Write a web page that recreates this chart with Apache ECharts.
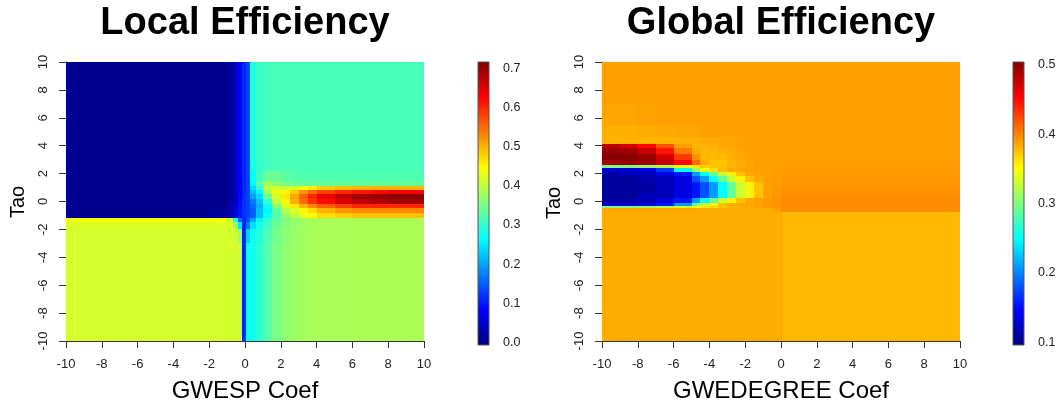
<!DOCTYPE html>
<html><head><meta charset="utf-8">
<script src="https://cdn.jsdelivr.net/npm/echarts@6/dist/echarts.min.js"></script>
<style>html,body{margin:0;padding:0;background:#fff}#c{width:1064px;height:405px}</style>
</head><body><div id="c"></div>
<script>
const titles = ['Local Efficiency', 'Global Efficiency'];
const xNames = ['GWESP Coef', 'GWEDEGREE Coef'];
const yName = 'Tao';
const localColorTicks = [0, 0.1, 0.2, 0.3, 0.4, 0.5, 0.6, 0.7];
const globalColorTicks = [0.1, 0.2, 0.3, 0.4, 0.5];
const localRange = [-0.007, 0.717];
const globalRange = [0.096, 0.504];
const jet = ['#00007F', '#0000FF', '#007FFF', '#00FFFF', '#7FFF7F', '#FFFF00', '#FF7F00', '#FF0000', '#7F0000'];

// Local efficiency: cell edges and values (rows bottom -> top)
const localXEdges = [-10, -2, -1, -0.65, -0.4, -0.15, 0.05, 0.3, 0.6, 1, 1.5, 2, 2.5, 3, 3.5, 4, 5, 6, 7, 8, 9, 10];
const localYEdges = [-10, -3, -2, -1.5, -1.15, -0.85, -0.5, -0.15, 0.2, 0.55, 0.85, 1.1, 1.5, 2.2, 3, 10];
const localEff = [
  [0.415, 0.415, 0.415, 0.414, 0.41, 0.11, 0.27, 0.275, 0.295, 0.325, 0.35, 0.365, 0.375, 0.38, 0.383, 0.385, 0.385, 0.386, 0.386, 0.386, 0.386],
  [0.415, 0.415, 0.415, 0.41, 0.38, 0.11, 0.23, 0.27, 0.29, 0.32, 0.345, 0.362, 0.373, 0.38, 0.383, 0.385, 0.385, 0.386, 0.386, 0.386, 0.386],
  [0.42, 0.42, 0.415, 0.38, 0.25, 0.11, 0.17, 0.24, 0.28, 0.31, 0.34, 0.36, 0.37, 0.378, 0.382, 0.385, 0.385, 0.386, 0.386, 0.386, 0.386],
  [0.44, 0.44, 0.4, 0.28, 0.16, 0.11, 0.14, 0.2, 0.26, 0.3, 0.335, 0.355, 0.368, 0.376, 0.38, 0.385, 0.386, 0.387, 0.387, 0.387, 0.387],
  [0.005, 0.015, 0.03, 0.06, 0.1, 0.12, 0.13, 0.15, 0.22, 0.27, 0.32, 0.37, 0.4, 0.43, 0.45, 0.47, 0.48, 0.49, 0.49, 0.49, 0.49],
  [0.005, 0.01, 0.025, 0.055, 0.1, 0.12, 0.13, 0.15, 0.22, 0.26, 0.33, 0.39, 0.42, 0.45, 0.47, 0.5, 0.52, 0.53, 0.53, 0.53, 0.53],
  [0.005, 0.008, 0.02, 0.05, 0.095, 0.12, 0.13, 0.16, 0.21, 0.27, 0.36, 0.42, 0.46, 0.5, 0.53, 0.56, 0.58, 0.6, 0.6, 0.6, 0.6],
  [0.005, 0.005, 0.015, 0.045, 0.09, 0.12, 0.13, 0.17, 0.22, 0.3, 0.4, 0.45, 0.5, 0.55, 0.59, 0.62, 0.65, 0.67, 0.68, 0.69, 0.69],
  [0.005, 0.005, 0.012, 0.04, 0.085, 0.11, 0.13, 0.2, 0.24, 0.34, 0.42, 0.46, 0.51, 0.56, 0.6, 0.64, 0.67, 0.69, 0.7, 0.71, 0.71],
  [0.005, 0.005, 0.01, 0.04, 0.08, 0.11, 0.13, 0.22, 0.26, 0.38, 0.43, 0.45, 0.48, 0.52, 0.55, 0.58, 0.6, 0.61, 0.62, 0.63, 0.63],
  [0.005, 0.005, 0.01, 0.04, 0.08, 0.11, 0.13, 0.24, 0.3, 0.4, 0.42, 0.41, 0.42, 0.44, 0.46, 0.48, 0.49, 0.5, 0.5, 0.5, 0.5],
  [0.005, 0.005, 0.01, 0.04, 0.08, 0.11, 0.13, 0.26, 0.33, 0.38, 0.36, 0.35, 0.34, 0.335, 0.335, 0.335, 0.335, 0.335, 0.335, 0.335, 0.335],
  [0.005, 0.005, 0.01, 0.04, 0.08, 0.11, 0.13, 0.27, 0.31, 0.34, 0.34, 0.33, 0.325, 0.32, 0.32, 0.32, 0.32, 0.32, 0.32, 0.32, 0.32],
  [0.005, 0.005, 0.01, 0.04, 0.08, 0.11, 0.13, 0.28, 0.3, 0.31, 0.315, 0.315, 0.315, 0.315, 0.315, 0.315, 0.315, 0.315, 0.315, 0.315, 0.315],
  [0.005, 0.005, 0.01, 0.04, 0.08, 0.11, 0.13, 0.29, 0.305, 0.312, 0.315, 0.315, 0.315, 0.315, 0.315, 0.315, 0.315, 0.315, 0.315, 0.315, 0.315]
];

// Global efficiency: cell edges and values (rows bottom -> top)
const globalXEdges = [-10, -9, -8, -7, -6, -5, -4.5, -4, -3.5, -3, -2.5, -2, -1.5, -1, -0.5, 0, 0.08, 1, 2, 3, 4, 6, 8, 10];
const globalYEdges = [-10, -0.75, -0.45, -0.3, -0.1, 0.25, 0.6, 1, 1.4, 1.8, 2.15, 2.4, 2.6, 3, 3.4, 3.8, 4.1, 4.6, 5.5, 7, 10];
const globalEff = [
  [0.384, 0.384, 0.384, 0.384, 0.384, 0.384, 0.384, 0.384, 0.384, 0.384, 0.384, 0.384, 0.384, 0.384, 0.384, 0.39, 0.379, 0.379, 0.379, 0.379, 0.379, 0.379, 0.379],
  [0.386, 0.386, 0.386, 0.386, 0.386, 0.385, 0.385, 0.384, 0.384, 0.384, 0.384, 0.384, 0.384, 0.384, 0.388, 0.396, 0.396, 0.396, 0.396, 0.396, 0.396, 0.396, 0.396],
  [0.3, 0.3, 0.31, 0.32, 0.335, 0.35, 0.36, 0.368, 0.375, 0.38, 0.384, 0.386, 0.388, 0.391, 0.394, 0.397, 0.397, 0.397, 0.397, 0.397, 0.397, 0.397, 0.397],
  [0.13, 0.13, 0.135, 0.155, 0.21, 0.29, 0.33, 0.355, 0.375, 0.384, 0.386, 0.387, 0.388, 0.391, 0.394, 0.397, 0.397, 0.397, 0.397, 0.397, 0.397, 0.397, 0.397],
  [0.11, 0.11, 0.12, 0.135, 0.155, 0.21, 0.25, 0.29, 0.33, 0.355, 0.375, 0.385, 0.388, 0.391, 0.394, 0.397, 0.397, 0.397, 0.397, 0.397, 0.397, 0.397, 0.397],
  [0.108, 0.108, 0.12, 0.12, 0.135, 0.155, 0.18, 0.21, 0.25, 0.29, 0.33, 0.355, 0.375, 0.388, 0.392, 0.396, 0.396, 0.396, 0.396, 0.396, 0.396, 0.396, 0.396],
  [0.108, 0.108, 0.11, 0.12, 0.135, 0.155, 0.18, 0.21, 0.25, 0.29, 0.33, 0.355, 0.375, 0.388, 0.392, 0.395, 0.395, 0.395, 0.395, 0.395, 0.395, 0.395, 0.395],
  [0.108, 0.108, 0.11, 0.12, 0.135, 0.155, 0.18, 0.21, 0.25, 0.29, 0.33, 0.355, 0.375, 0.388, 0.391, 0.393, 0.393, 0.393, 0.393, 0.393, 0.393, 0.393, 0.393],
  [0.108, 0.108, 0.115, 0.12, 0.135, 0.18, 0.21, 0.25, 0.29, 0.33, 0.355, 0.375, 0.385, 0.389, 0.39, 0.392, 0.392, 0.392, 0.392, 0.392, 0.392, 0.392, 0.392],
  [0.11, 0.12, 0.12, 0.135, 0.155, 0.21, 0.25, 0.29, 0.33, 0.355, 0.375, 0.385, 0.388, 0.389, 0.39, 0.391, 0.391, 0.391, 0.391, 0.391, 0.391, 0.391, 0.391],
  [0.13, 0.13, 0.14, 0.17, 0.25, 0.31, 0.345, 0.365, 0.378, 0.384, 0.387, 0.389, 0.389, 0.389, 0.39, 0.391, 0.391, 0.391, 0.391, 0.391, 0.391, 0.391, 0.391],
  [0.3, 0.3, 0.31, 0.32, 0.345, 0.36, 0.37, 0.375, 0.378, 0.381, 0.384, 0.387, 0.389, 0.389, 0.389, 0.39, 0.39, 0.39, 0.39, 0.39, 0.39, 0.39, 0.39],
  [0.49, 0.495, 0.49, 0.475, 0.45, 0.41, 0.385, 0.375, 0.375, 0.38, 0.384, 0.387, 0.389, 0.389, 0.389, 0.39, 0.39, 0.39, 0.39, 0.39, 0.39, 0.39, 0.39],
  [0.5, 0.5, 0.495, 0.47, 0.43, 0.395, 0.38, 0.377, 0.378, 0.382, 0.385, 0.388, 0.389, 0.389, 0.389, 0.389, 0.389, 0.389, 0.389, 0.389, 0.389, 0.389, 0.389],
  [0.495, 0.49, 0.475, 0.445, 0.405, 0.385, 0.38, 0.38, 0.382, 0.384, 0.386, 0.388, 0.389, 0.389, 0.389, 0.389, 0.389, 0.389, 0.389, 0.389, 0.389, 0.389, 0.389],
  [0.48, 0.47, 0.45, 0.42, 0.39, 0.38, 0.381, 0.383, 0.385, 0.386, 0.388, 0.389, 0.389, 0.389, 0.389, 0.389, 0.389, 0.389, 0.389, 0.389, 0.389, 0.389, 0.389],
  [0.382, 0.382, 0.381, 0.381, 0.382, 0.383, 0.384, 0.385, 0.386, 0.387, 0.388, 0.389, 0.389, 0.389, 0.389, 0.389, 0.389, 0.389, 0.389, 0.389, 0.389, 0.389, 0.389],
  [0.383, 0.383, 0.384, 0.385, 0.386, 0.387, 0.388, 0.389, 0.389, 0.389, 0.389, 0.389, 0.389, 0.389, 0.389, 0.389, 0.389, 0.389, 0.389, 0.389, 0.389, 0.389, 0.389],
  [0.386, 0.387, 0.388, 0.389, 0.389, 0.389, 0.389, 0.389, 0.389, 0.389, 0.389, 0.389, 0.389, 0.389, 0.389, 0.389, 0.389, 0.389, 0.389, 0.389, 0.389, 0.389, 0.389],
  [0.389, 0.389, 0.389, 0.389, 0.389, 0.389, 0.389, 0.389, 0.389, 0.389, 0.389, 0.389, 0.389, 0.389, 0.389, 0.389, 0.389, 0.389, 0.389, 0.389, 0.389, 0.389, 0.389]
];

function cells(xe, ye, vals) {
  const out = [];
  for (let r = 0; r < vals.length; r++)
    for (let c = 0; c < vals[r].length; c++)
      out.push([xe[c], xe[c + 1], ye[r], ye[r + 1], vals[r][c]]);
  return out;
}
function cellRender(params, api) {
  const a = api.coord([api.value(0), api.value(3)]);
  const b = api.coord([api.value(1), api.value(2)]);
  const x0 = Math.round(a[0]), y0 = Math.round(a[1]);
  const x1 = Math.max(Math.round(b[0]), x0 + 1), y1 = Math.max(Math.round(b[1]), y0 + 1);
  return { type: 'rect', shape: { x: x0, y: y0, width: x1 - x0, height: y1 - y0 },
    style: { fill: api.visual('color') } };
}
const jetStops = jet.map((c, i) => ({ offset: i / (jet.length - 1), color: c }));
function barRender(params, api) {
  const a = api.coord([api.value(0), api.value(3)]);
  const b = api.coord([api.value(1), api.value(2)]);
  return { type: 'rect', shape: { x: a[0], y: a[1], width: b[0] - a[0], height: b[1] - a[1] },
    style: { fill: { type: 'linear', x: 0, y: 1, x2: 0, y2: 0, colorStops: jetStops }, stroke: '#555', lineWidth: 1 } };
}
const FONT = 'Liberation Sans';
function mainX(i) {
  return { gridIndex: i, type: 'value', min: -10, max: 10, interval: 2,
    axisLine: { show: true, onZero: false, lineStyle: { color: '#333', width: 1 } },
    axisTick: { show: true, length: 7, lineStyle: { color: '#333' } },
    axisLabel: { fontSize: 13, color: '#222', margin: 17, fontFamily: FONT },
    splitLine: { show: false } };
}
function mainY(i) {
  return { gridIndex: i, type: 'value', min: -10, max: 10, interval: 2,
    axisLine: { show: true, onZero: false, lineStyle: { color: '#333', width: 1 } },
    axisTick: { show: true, length: 7, lineStyle: { color: '#333' } },
    axisLabel: { fontSize: 13, color: '#222', margin: 16, rotate: 90, fontFamily: FONT },
    splitLine: { show: false } };
}
function cbY(i, range, ticks) {
  return { gridIndex: i, type: 'value', position: 'right', min: range[0], max: range[1],
    axisLine: { show: false },
    axisTick: { show: true, length: 6, customValues: ticks, lineStyle: { color: '#333' } },
    axisLabel: { customValues: ticks, formatter: v => v.toFixed(1), fontSize: 12.5, color: '#222', margin: 14, fontFamily: FONT },
    splitLine: { show: false } };
}
function txt(x, y, text, size, bold, rot) {
  const align = 'center', va = 'middle';
  return { type: 'text', x: x, y: y, rotation: rot || 0, silent: true,
    style: { text: text, font: (bold ? 'bold ' : '') + size + 'px "' + FONT + '"', fill: '#000',
      align: align, textAlign: align, verticalAlign: va, textVerticalAlign: va } };
}

const chart = echarts.init(document.getElementById('c'), null, { renderer: 'canvas' });
chart.setOption({
  animation: false,
  backgroundColor: '#fff',
  textStyle: { fontFamily: FONT },
  grid: [
    { left: 66, top: 62, width: 358, height: 279 },
    { left: 602, top: 62, width: 358, height: 279 },
    { left: 478, top: 62, width: 11, height: 283 },
    { left: 1013, top: 62, width: 11, height: 283 }
  ],
  xAxis: [mainX(0), mainX(1),
    { gridIndex: 2, type: 'value', min: 0, max: 1, show: false },
    { gridIndex: 3, type: 'value', min: 0, max: 1, show: false }],
  yAxis: [mainY(0), mainY(1), cbY(2, localRange, localColorTicks), cbY(3, globalRange, globalColorTicks)],
  visualMap: [
    { type: 'continuous', show: false, seriesIndex: 0, dimension: 4, min: localRange[0], max: localRange[1], inRange: { color: jet } },
    { type: 'continuous', show: false, seriesIndex: 1, dimension: 4, min: globalRange[0], max: globalRange[1], inRange: { color: jet } }
  ],
  series: [
    { type: 'custom', xAxisIndex: 0, yAxisIndex: 0, dimensions: ['x0', 'x1', 'y0', 'y1', 'v'], encode: { x: [0, 1], y: [2, 3] },
      data: cells(localXEdges, localYEdges, localEff), renderItem: cellRender, clip: true, silent: true },
    { type: 'custom', xAxisIndex: 1, yAxisIndex: 1, dimensions: ['x0', 'x1', 'y0', 'y1', 'v'], encode: { x: [0, 1], y: [2, 3] },
      data: cells(globalXEdges, globalYEdges, globalEff), renderItem: cellRender, clip: true, silent: true },
    { type: 'custom', xAxisIndex: 2, yAxisIndex: 2, encode: { x: [0, 1], y: [2, 3] },
      data: [[0, 1, localRange[0], localRange[1]]], renderItem: barRender, silent: true },
    { type: 'custom', xAxisIndex: 3, yAxisIndex: 3, encode: { x: [0, 1], y: [2, 3] },
      data: [[0, 1, globalRange[0], globalRange[1]]], renderItem: barRender, silent: true }
  ],
  graphic: [
    txt(245, 24, titles[0], 38, true),
    txt(781, 24, titles[1], 38, true),
    txt(245, 391.5, xNames[0], 24, false),
    txt(781, 391.5, xNames[1], 24, false),
    txt(18, 202, yName, 20, false, Math.PI / 2),
    txt(554, 203, yName, 20, false, Math.PI / 2)
  ]
});
</script>
</body></html>
